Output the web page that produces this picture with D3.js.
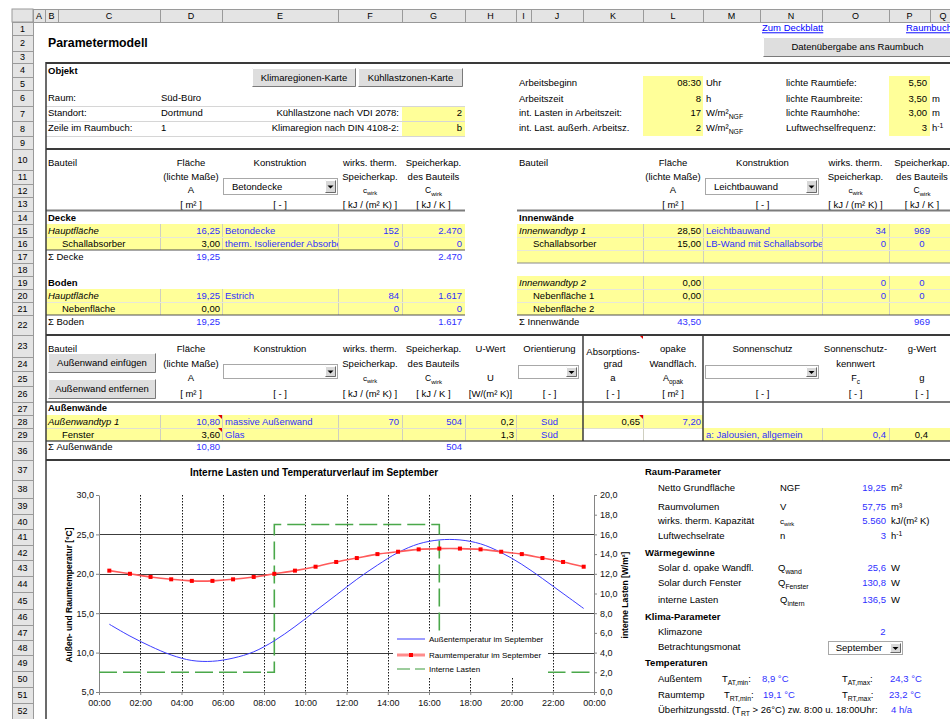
<!DOCTYPE html>
<html>
<head>
<meta charset="utf-8">
<script src="https://cdn.jsdelivr.net/npm/d3@7/dist/d3.min.js"></script>
<style>
  html, body { margin: 0; padding: 0; background: #fff; overflow: hidden; }
  svg { display: block; font-family: "Liberation Sans", Arial, sans-serif; }
</style>
</head>
<body>
<svg id="sheet" width="950" height="719"></svg>
<script>
// ---------- chart data: September day profile ----------
const hourSlots   = [0.5, 1.5, 2.5, 3.5, 4.5, 5.5, 6.5, 7.5, 8.5, 9.5, 10.5, 11.5,
                     12.5, 13.5, 14.5, 15.5, 16.5, 17.5, 18.5, 19.5, 20.5, 21.5, 22.5, 23.5];
const outdoorTemp = [13.6, 12.1, 10.8, 9.7, 9.0, 8.9, 9.3, 10.1, 11.5, 13.3, 15.3, 17.3,
                     19.3, 21.1, 22.7, 23.8, 24.3, 24.3, 23.8, 22.7, 21.2, 19.4, 17.5, 15.6];
const roomTemp    = [20.4, 20.0, 19.6, 19.3, 19.1, 19.1, 19.3, 19.6, 20.0, 20.4, 20.9, 21.5,
                     22.0, 22.5, 22.8, 23.1, 23.2, 23.2, 23.1, 22.8, 22.5, 22.0, 21.5, 20.9];
const loadHours   = [0, 8.5, 8.5, 16.5, 16.5, 24];
const loadValues  = [2, 2, 17, 17, 2, 2];
const timeTicks   = [0, 2, 4, 6, 8, 10, 12, 14, 16, 18, 20, 22, 24];
const timeLabels  = ['00:00', '02:00', '04:00', '06:00', '08:00', '10:00', '12:00',
                     '14:00', '16:00', '18:00', '20:00', '22:00', '00:00'];
const tempTicks   = [5, 10, 15, 20, 25, 30];
const loadTicks   = [0, 2, 4, 6, 8, 10, 12, 14, 16, 18, 20];
const seriesNames = ['Außentemperatur im September', 'Raumtemperatur im September', 'Interne Lasten'];

// ---------- sheet grid ----------
const colNames = ['A','B','C','D','E','F','G','H','I','J','K','L','M','N','O','P','Q'];
const colEdges = [33, 45, 58, 160, 222, 338, 402, 465, 516, 531, 583, 643, 703, 760, 822, 889, 930, 956];
const rowNames = [1,2,3,4,5,6,7,8,9,10,11,12,13,14,15,16,17,18,19,20,21,22,23,24,25,26,27,28,29,
                  36,37,38,39,40,41,42,43,44,45,46,47,48,49,50,51,52];
const rowEdges = [22,35,51,63,77,90,106,121,136,149,170,184,197,211,224,237,250,263,276,289,302,315,
                  335,357,371,386,402,415,428,441,460,480,498,514,529,545,560,576,592,609,625,640,655,
                  671,687,703,719];

const svg = d3.select('#sheet');
const BLUE = '#2f2fff';
const YEL = '#ffff99';
let clipId = 0;

function T(x, y, s, o = {}) {
  const fs = o.fs || 9.5;
  const t = svg.append('text').attr('x', x).attr('y', y + fs * 0.35)
    .attr('font-size', fs).attr('text-anchor', o.a || 'start')
    .attr('fill', o.c || '#000').text(s);
  if (o.b) t.attr('font-weight', 'bold');
  if (o.i) t.attr('font-style', 'italic');
  if (o.u) t.attr('text-decoration', 'underline');
  if (o.clip) {
    const id = 'clip' + (clipId++);
    svg.append('clipPath').attr('id', id).append('rect')
      .attr('x', o.clip[0]).attr('y', y - 10).attr('width', o.clip[1] - o.clip[0]).attr('height', 20);
    t.attr('clip-path', `url(#${id})`);
  }
  return t;
}

// text with sub/superscripts: parts are strings or [string, 'sub'|'sup']
function R(x, y, parts, o = {}) {
  const fs = o.fs || 9.5;
  const t = svg.append('text').attr('x', x).attr('y', y + fs * 0.35).attr('font-size', fs)
    .attr('text-anchor', o.a || 'start').attr('fill', o.c || '#000');
  if (o.b) t.attr('font-weight', 'bold');
  let shift = 0;
  parts.forEach(p => {
    const [s, kind] = typeof p === 'string' ? [p, null] : p;
    const target = kind === 'sub' ? fs * 0.3 : kind === 'sup' ? -fs * 0.38 : 0;
    const ts = t.append('tspan').attr('dy', target - shift).text(s);
    if (kind) ts.attr('font-size', fs * 0.72);
    shift = target;
  });
  return t;
}

function rect(x0, y0, x1, y1, fill, stroke) {
  const r = svg.append('rect').attr('x', x0).attr('y', y0).attr('width', x1 - x0).attr('height', y1 - y0)
    .attr('fill', fill || 'none');
  if (stroke) r.attr('stroke', stroke);
  return r;
}
function hline(x0, x1, y, color, w) {
  svg.append('line').attr('x1', x0).attr('x2', x1).attr('y1', y).attr('y2', y)
    .attr('stroke', color).attr('stroke-width', w || 1);
}
function vline(x, y0, y1, color, w) {
  svg.append('line').attr('x1', x).attr('x2', x).attr('y1', y0).attr('y2', y1)
    .attr('stroke', color).attr('stroke-width', w || 1);
}
function button(x0, y0, x1, y1, label) {
  rect(x0, y0, x1, y1, '#dedede');
  svg.append('path').attr('d', `M${x0 + 0.5},${y1 - 0.5}V${y0 + 0.5}H${x1 - 0.5}`).attr('stroke', '#fff').attr('fill', 'none');
  svg.append('path').attr('d', `M${x0 + 0.5},${y1 - 0.5}H${x1 - 0.5}V${y0 + 0.5}`).attr('stroke', '#7a7a7a').attr('fill', 'none');
  T((x0 + x1) / 2, (y0 + y1) / 2, label, { a: 'middle' });
}
function dropdown(x0, y0, x1, y1, label, o = {}) {
  rect(x0 + 0.5, y0 + 0.5, x1 - 0.5, y1 - 0.5, '#fff', '#a8a8a8');
  const bx0 = x1 - 13, by0 = y0 + 2, bx1 = x1 - 2, by1 = y1 - 2;
  rect(bx0, by0, bx1, by1, '#d8d8d8');
  svg.append('path').attr('d', `M${bx0 + 0.5},${by1 - 0.5}V${by0 + 0.5}H${bx1 - 0.5}`).attr('stroke', '#fff').attr('fill', 'none');
  svg.append('path').attr('d', `M${bx0 + 0.5},${by1 - 0.5}H${bx1 - 0.5}V${by0 + 0.5}`).attr('stroke', '#6a6a6a').attr('fill', 'none');
  const cx = (bx0 + bx1) / 2, cy = (by0 + by1) / 2;
  svg.append('path').attr('d', `M${cx - 3},${cy - 1}H${cx + 3}L${cx},${cy + 2}Z`).attr('fill', '#000');
  if (label) T(o.center ? (x0 + bx0) / 2 : x0 + 9, (y0 + y1) / 2, label, { a: o.center ? 'middle' : 'start' });
}
function redMark(x, y) {
  svg.append('path').attr('d', `M${x - 4},${y}H${x}V${y + 4}Z`).attr('fill', '#e00000');
}
const cx = n => colEdges[colNames.indexOf(n)];
const ce = n => colEdges[colNames.indexOf(n) + 1];
const cm = n => (cx(n) + ce(n)) / 2;

// ---------- Excel frame: column and row headers ----------
rect(12, 9, 33, 22, '#e4e4e4', '#9a9a9a');
colNames.forEach((n, i) => {
  rect(colEdges[i] + 0.5, 9.5, colEdges[i + 1] + 0.5, 22.5, '#e4e4e4', '#9a9a9a');
  T(Math.min((colEdges[i] + colEdges[i + 1]) / 2, 943), 15.5, n, { a: 'middle', fs: 9 });
});
rowNames.forEach((n, i) => {
  rect(12.5, rowEdges[i] + 0.5, 33.5, rowEdges[i + 1] + 0.5, '#e4e4e4', '#9a9a9a');
  T(22.5, (rowEdges[i] + rowEdges[i + 1]) / 2, String(n), { a: 'middle', fs: 9 });
});

// ---------- header area ----------
T(48, 43, 'Parametermodell', { b: 1, fs: 12.3 });
T(762, 28, 'Zum Deckblatt', { c: '#0000ff', u: 1 });
T(906, 28, 'Raumbuch', { c: '#0000ff', u: 1 });
button(763, 37, 952, 57, 'Datenübergabe ans Raumbuch');

// ---------- Objekt block ----------
T(48, 71, 'Objekt', { b: 1 });
button(252, 68, 356, 87, 'Klimaregionen-Karte');
button(358, 68, 463, 87, 'Kühllastzonen-Karte');
hline(46, 465, 106.5, '#d6d6d6');
hline(46, 465, 121.5, '#d6d6d6');
hline(46, 465, 136.5, '#d6d6d6');
rect(cx('G'), 107, ce('G'), 121, YEL);
rect(cx('G'), 122, ce('G'), 136, YEL);
T(48, 98, 'Raum:'); T(161, 98, 'Süd-Büro');
T(48, 113, 'Standort:'); T(161, 113, 'Dortmund');
T(399, 113, 'Kühllastzone nach VDI 2078:', { a: 'end' }); T(462, 113, '2', { a: 'end' });
T(48, 128, 'Zeile im Raumbuch:'); T(161, 128, '1');
T(399, 128, 'Klimaregion nach DIN 4108-2:', { a: 'end' }); T(462, 128, 'b', { a: 'end' });

rect(643, 76, 703, 136, YEL);
rect(889, 76, 930, 136, YEL);
T(519, 83, 'Arbeitsbeginn'); T(701, 83, '08:30', { a: 'end' }); T(706, 83, 'Uhr');
T(519, 99, 'Arbeitszeit'); T(701, 99, '8', { a: 'end' }); T(706, 99, 'h');
T(519, 113, 'int. Lasten in Arbeitszeit:'); T(701, 113, '17', { a: 'end' });
R(706, 113, ['W/m²', ['NGF', 'sub']]);
T(519, 128, 'int. Last. außerh. Arbeitsz.'); T(701, 128, '2', { a: 'end' });
R(706, 128, ['W/m²', ['NGF', 'sub']]);
T(786, 83, 'lichte Raumtiefe:'); T(927, 83, '5,50', { a: 'end' });
T(786, 99, 'lichte Raumbreite:'); T(927, 99, '3,50', { a: 'end' }); T(932, 99, 'm');
T(786, 113, 'lichte Raumhöhe:'); T(927, 113, '3,00', { a: 'end' }); T(932, 113, 'm');
T(786, 128, 'Luftwechselfrequenz:'); T(927, 128, '3', { a: 'end' }); R(932, 128, ['h', ['-1', 'sup']]);

// ---------- Decke / Boden / Innenwände ----------
function headerBlock(leftX, cols, dropLabel, dropBox) {
  T(leftX, 163, 'Bauteil');
  T(cols.A, 163, 'Fläche', { a: 'middle' });
  T(cols.A, 177, '(lichte Maße)', { a: 'middle' });
  T(cols.A, 190, 'A', { a: 'middle' });
  T(cols.A, 205, '[ m² ]', { a: 'middle' });
  T(cols.K, 163, 'Konstruktion', { a: 'middle' });
  dropdown(dropBox[0], 178, dropBox[1], 195, dropLabel);
  T(cols.K, 205, '[ - ]', { a: 'middle' });
  T(cols.c, 163, 'wirks. therm.', { a: 'middle' });
  T(cols.c, 177, 'Speicherkap.', { a: 'middle' });
  R(cols.c, 190, ['c', ['wirk', 'sub']], { a: 'middle', fs: 8 });
  T(cols.c, 205, '[ kJ / (m² K) ]', { a: 'middle' });
  T(cols.C, 163, 'Speicherkap.', { a: 'middle' });
  T(cols.C, 177, 'des Bauteils', { a: 'middle' });
  R(cols.C, 190, ['C', ['wirk', 'sub']], { a: 'middle', fs: 8.5 });
  T(cols.C, 205, '[ kJ / K ]', { a: 'middle' });
}
headerBlock(48, { A: cm('D'), K: cm('E'), c: cm('F'), C: cm('G') }, 'Betondecke', [223, 338]);
headerBlock(519, { A: cm('L'), K: 762.5, c: cm('O'), C: 922 }, 'Leichtbauwand', [705, 819]);

function yellowRows(x0, x1, y0, y1, splits, rowLines) {
  rect(x0, y0, x1, y1, YEL);
  splits.forEach(s => vline(s + 0.5, y0, y1, '#cfcfc0'));
  rowLines.forEach(r => hline(x0, x1, r + 0.5, '#e8e8d8'));
}
const leftSplits = [160, 222, 338, 402];
const rightSplits = [643, 703, 822, 889];
yellowRows(46, 465, 224, 250, leftSplits, [237]);
yellowRows(46, 465, 289, 315, leftSplits, [302]);
yellowRows(517, 950, 224, 263, rightSplits, [237, 250]);
yellowRows(517, 950, 276, 315, rightSplits, [289, 302]);

hline(46, 465, 210.5, '#7c7c7c', 2);
hline(517, 950, 210.5, '#7c7c7c', 2);
hline(46, 465, 250, '#505050', 1.2);
hline(46, 465, 315, '#505050', 1.2);
hline(517, 950, 263, '#8a8a8a', 1);
hline(517, 950, 315, '#505050', 1.2);

T(48, 218, 'Decke', { b: 1 });
T(48, 231, 'Hauptfläche', { i: 1 }); T(220, 231, '16,25', { a: 'end', c: BLUE });
T(225, 231, 'Betondecke', { c: BLUE }); T(399, 231, '152', { a: 'end', c: BLUE }); T(462, 231, '2.470', { a: 'end', c: BLUE });
T(62, 244, 'Schallabsorber'); T(220, 244, '3,00', { a: 'end' });
T(225, 244, 'therm. Isolierender Absorber', { c: BLUE, clip: [222, 338] });
T(399, 244, '0', { a: 'end', c: BLUE }); T(462, 244, '0', { a: 'end', c: BLUE });
T(48, 257, 'Σ Decke'); T(220, 257, '19,25', { a: 'end', c: BLUE }); T(462, 257, '2.470', { a: 'end', c: BLUE });
T(48, 283, 'Boden', { b: 1 });
T(48, 296, 'Hauptfläche', { i: 1 }); T(220, 296, '19,25', { a: 'end', c: BLUE });
T(225, 296, 'Estrich', { c: BLUE }); T(399, 296, '84', { a: 'end', c: BLUE }); T(462, 296, '1.617', { a: 'end', c: BLUE });
T(62, 309, 'Nebenfläche'); T(220, 309, '0,00', { a: 'end' });
T(399, 309, '0', { a: 'end', c: BLUE }); T(462, 309, '0', { a: 'end', c: BLUE });
T(48, 322, 'Σ Boden'); T(220, 322, '19,25', { a: 'end', c: BLUE }); T(462, 322, '1.617', { a: 'end', c: BLUE });

T(519, 218, 'Innenwände', { b: 1 });
T(519, 231, 'Innenwandtyp 1', { i: 1 }); T(701, 231, '28,50', { a: 'end' });
T(706, 231, 'Leichtbauwand', { c: BLUE }); T(886, 231, '34', { a: 'end', c: BLUE }); T(922, 231, '969', { a: 'middle', c: BLUE });
T(533, 244, 'Schallabsorber'); T(701, 244, '15,00', { a: 'end' });
T(706, 244, 'LB-Wand mit Schallabsorber', { c: BLUE, clip: [703, 822] });
T(886, 244, '0', { a: 'end', c: BLUE }); T(922, 244, '0', { a: 'middle', c: BLUE });
T(519, 283, 'Innenwandtyp 2', { i: 1 }); T(701, 283, '0,00', { a: 'end' });
T(886, 283, '0', { a: 'end', c: BLUE }); T(922, 283, '0', { a: 'middle', c: BLUE });
T(533, 296, 'Nebenfläche 1'); T(701, 296, '0,00', { a: 'end' });
T(886, 296, '0', { a: 'end', c: BLUE }); T(922, 296, '0', { a: 'middle', c: BLUE });
T(533, 309, 'Nebenfläche 2');
T(519, 322, 'Σ Innenwände'); T(701, 322, '43,50', { a: 'end', c: BLUE }); T(922, 322, '969', { a: 'middle', c: BLUE });

// ---------- Außenwände ----------
T(48, 349, 'Bauteil');
button(48, 353, 156, 373, 'Außenwand einfügen');
button(48, 379, 156, 399, 'Außenwand entfernen');
[['D', ['Fläche', '(lichte Maße)', 'A', '[ m² ]']],
 ['F', ['wirks. therm.', 'Speicherkap.', null, '[ kJ / (m² K) ]']],
 ['G', ['Speicherkap.', 'des Bauteils', null, '[ kJ / K ]']],
 ['H', ['U-Wert', null, 'U', '[W/(m² K)]']],
 ['L', ['opake', 'Wandfläch.', null, '[ m² ]']],
 ['O', ['Sonnenschutz-', 'kennwert', null, '[ - ]']]].forEach(([c, lines]) => {
  [349, 364, 378, 394].forEach((y, i) => { if (lines[i]) T(cm(c), y, lines[i], { a: 'middle' }); });
});
T(cm('E'), 349, 'Konstruktion', { a: 'middle' }); dropdown(223, 364, 338, 379, ''); T(cm('E'), 394, '[ - ]', { a: 'middle' });
R(cm('F'), 378, ['c', ['wirk', 'sub']], { a: 'middle', fs: 8 });
R(cm('G'), 378, ['C', ['wirk', 'sub']], { a: 'middle', fs: 8.5 });
T(549.5, 349, 'Orientierung', { a: 'middle' }); dropdown(518, 365, 579, 379, ''); T(549.5, 394, '[ - ]', { a: 'middle' });
T(cm('K'), 352, 'Absorptions-', { a: 'middle' }); T(cm('K'), 364, 'grad', { a: 'middle' });
T(cm('K'), 378, 'a', { a: 'middle' }); T(cm('K'), 394, '[ - ]', { a: 'middle' });
R(cm('L'), 378, ['A', ['opak', 'sub']], { a: 'middle', fs: 9 });
T(762.5, 349, 'Sonnenschutz', { a: 'middle' }); dropdown(705, 365, 819, 379, ''); T(762.5, 394, '[ - ]', { a: 'middle' });
R(cm('O'), 378, ['F', ['c', 'sub']], { a: 'middle', fs: 9 });
T(922, 349, 'g-Wert', { a: 'middle' }); T(922, 378, 'g', { a: 'middle' }); T(922, 394, '[ - ]', { a: 'middle' });

T(48, 408, 'Außenwände', { b: 1 });
rect(46, 415, 703, 428, YEL);
rect(46, 428, 583, 441, YEL);
rect(703, 428, 950, 441, YEL);
[160, 222, 338, 402, 465, 516, 643].forEach(s => vline(s + 0.5, 415, 441, '#cfcfc0'));
[822, 889].forEach(s => vline(s + 0.5, 428, 441, '#cfcfc0'));
hline(46, 703, 428.5, '#e0e0d0');
T(48, 422, 'Außenwandtyp 1', { i: 1 }); T(220, 422, '10,80', { a: 'end', c: BLUE });
T(225, 422, 'massive Außenwand', { c: BLUE }); T(399, 422, '70', { a: 'end', c: BLUE }); T(462, 422, '504', { a: 'end', c: BLUE });
T(514, 422, '0,2', { a: 'end' }); T(549.5, 422, 'Süd', { a: 'middle', c: BLUE });
T(640, 422, '0,65', { a: 'end' }); T(701, 422, '7,20', { a: 'end', c: BLUE });
T(62, 434.5, 'Fenster'); T(220, 434.5, '3,60', { a: 'end' }); T(225, 434.5, 'Glas', { c: BLUE });
T(514, 434.5, '1,3', { a: 'end' }); T(549.5, 434.5, 'Süd', { a: 'middle', c: BLUE });
T(706, 434.5, 'a: Jalousien, allgemein', { c: BLUE });
T(886, 434.5, '0,4', { a: 'end', c: BLUE }); T(928, 434.5, '0,4', { a: 'end' });
T(48, 447, 'Σ Außenwände'); T(220, 447, '10,80', { a: 'end', c: BLUE }); T(462, 447, '504', { a: 'end', c: BLUE });
redMark(222, 415); redMark(222, 428); redMark(643, 335); redMark(643, 415);

// section rules
hline(46, 950, 63, '#3a3a3a', 2);
hline(46, 950, 149, '#3a3a3a', 2);
hline(46, 950, 335, '#3a3a3a', 2);
hline(46, 950, 402, '#7c7c7c', 2);
hline(46, 950, 441, '#5a5a5a', 1.5);
hline(46, 950, 460, '#3a3a3a', 2);
vline(583, 335, 441, '#3a3a3a', 1.5);
vline(703, 335, 441, '#3a3a3a', 1.5);
vline(46, 62, 719, '#3a3a3a', 1.5);

// ---------- chart ----------
const chart = svg.append('g').attr('class', 'chart');
const x = d3.scaleLinear().domain([0, 24]).range([99, 594]);
const yT = d3.scaleLinear().domain([5, 30]).range([692, 495]);
const yL = d3.scaleLinear().domain([0, 20]).range([692, 495]);
const fmt = d => d3.format('.1f')(d).replace('.', ',');

chart.append('text').attr('x', 314).attr('y', 475.5).attr('text-anchor', 'middle')
  .attr('font-size', 10).attr('font-weight', 'bold').text('Interne Lasten und Temperaturverlauf im September');

// gridlines
chart.append('g').selectAll('line').data(tempTicks.filter(v => v > 5 && v < 30)).join('line')
  .attr('x1', x(0)).attr('x2', x(24)).attr('y1', d => Math.round(yT(d)) + 0.5).attr('y2', d => Math.round(yT(d)) + 0.5)
  .attr('stroke', '#3c3c3c');
chart.append('g').selectAll('line').data(timeTicks.filter(v => v > 0 && v < 24)).join('line')
  .attr('x1', d => Math.round(x(d)) + 0.5).attr('x2', d => Math.round(x(d)) + 0.5)
  .attr('y1', yT(30)).attr('y2', yT(5)).attr('stroke', '#1a1a1a').attr('stroke-dasharray', '1.5,1.5');

// axes
function styleAxis(g) {
  g.selectAll('path.domain').attr('stroke', '#858585');
  g.selectAll('.tick line').attr('stroke', '#858585');
  g.selectAll('.tick text').attr('font-size', 9).attr('fill', '#111')
    .attr('font-family', '"Liberation Sans", Arial, sans-serif');
}
chart.append('g').attr('transform', `translate(${x(0)},0)`)
  .call(d3.axisLeft(yT).tickValues(tempTicks).tickFormat(fmt).tickSize(3).tickPadding(2).tickSizeOuter(0))
  .call(styleAxis);
chart.append('g').attr('transform', `translate(${x(24)},0)`)
  .call(d3.axisRight(yL).tickValues(loadTicks).tickFormat(fmt).tickSize(3).tickPadding(3).tickSizeOuter(0))
  .call(styleAxis);
chart.append('g').attr('transform', `translate(0,${yT(5)})`)
  .call(d3.axisBottom(x).tickValues(timeTicks).tickFormat((d, i) => timeLabels[i]).tickSize(3).tickPadding(5).tickSizeOuter(0))
  .call(styleAxis);

chart.append('text').attr('transform', `translate(72,595) rotate(-90)`).attr('text-anchor', 'middle')
  .attr('font-size', 8.5).attr('font-weight', 'bold').text('Außen- und Raumtemperatur [°C]');
chart.append('text').attr('transform', `translate(628,595) rotate(-90)`).attr('text-anchor', 'middle')
  .attr('font-size', 8.5).attr('font-weight', 'bold').text('interne Lasten [W/m²]');

// series
const loadLine = d3.line().x((d, i) => x(loadHours[i])).y(d => yL(d));
chart.append('path').attr('d', loadLine(loadValues)).attr('fill', 'none')
  .attr('stroke', '#4aa84a').attr('stroke-width', 1.6).attr('stroke-dasharray', '18,6');

const smooth = d3.line().x((d, i) => x(hourSlots[i])).curve(d3.curveCatmullRom.alpha(0.5));
chart.append('path').attr('d', smooth.y(d => yT(d))(outdoorTemp)).attr('fill', 'none')
  .attr('stroke', '#3d3dff').attr('stroke-width', 1);
chart.append('path').attr('d', smooth.y(d => yT(d))(roomTemp)).attr('fill', 'none')
  .attr('stroke', '#ff5a5a').attr('stroke-width', 1.6);
chart.append('g').selectAll('rect').data(roomTemp).join('rect')
  .attr('x', (d, i) => x(hourSlots[i]) - 2).attr('y', d => yT(d) - 2)
  .attr('width', 4).attr('height', 4).attr('fill', '#ff0000');

// legend
const leg = chart.append('g');
leg.append('rect').attr('x', 393).attr('y', 632).attr('width', 155).attr('height', 45).attr('fill', '#fff');
const legY = [639, 655, 669];
leg.append('line').attr('x1', 397).attr('x2', 425).attr('y1', legY[0]).attr('y2', legY[0]).attr('stroke', '#3d3dff');
leg.append('line').attr('x1', 397).attr('x2', 425).attr('y1', legY[1]).attr('y2', legY[1]).attr('stroke', '#ff8c8c').attr('stroke-width', 3);
leg.append('rect').attr('x', 409).attr('y', legY[1] - 2).attr('width', 4).attr('height', 4).attr('fill', '#ff0000');
leg.append('line').attr('x1', 397).attr('x2', 425).attr('y1', legY[2]).attr('y2', legY[2]).attr('stroke', '#3a9a3a').attr('stroke-dasharray', '13,5');
seriesNames.forEach((n, i) => {
  leg.append('text').attr('x', 429).attr('y', legY[i] + 3).attr('font-size', 8).text(n);
});

// ---------- room summary panel ----------
T(645, 472, 'Raum-Parameter', { b: 1 });
T(658, 488, 'Netto Grundfläche'); T(780, 488, 'NGF'); T(886, 488, '19,25', { a: 'end', c: BLUE }); T(891, 488, 'm²');
T(658, 507, 'Raumvolumen'); T(780, 507, 'V'); T(886, 507, '57,75', { a: 'end', c: BLUE }); T(891, 507, 'm³');
T(658, 521, 'wirks. therm. Kapazität'); R(780, 521, ['c', ['wirk', 'sub']], { fs: 8 });
T(886, 521, '5.560', { a: 'end', c: BLUE }); T(891, 521, 'kJ/(m² K)');
T(658, 536, 'Luftwechselrate'); T(780, 536, 'n'); T(886, 536, '3', { a: 'end', c: BLUE }); R(891, 536, ['h', ['-1', 'sup']]);
T(645, 553, 'Wärmegewinne', { b: 1 });
T(658, 568, 'Solar d. opake Wandfl.'); R(778, 568, ['Q', ['wand', 'sub']]); T(886, 568, '25,6', { a: 'end', c: BLUE }); T(891, 568, 'W');
T(658, 583, 'Solar durch Fenster'); R(778, 583, ['Q', ['Fenster', 'sub']]); T(886, 583, '130,8', { a: 'end', c: BLUE }); T(891, 583, 'W');
T(658, 600, 'interne Lasten'); R(780, 600, ['Q', ['intern', 'sub']]); T(886, 600, '136,5', { a: 'end', c: BLUE }); T(891, 600, 'W');
T(645, 617, 'Klima-Parameter', { b: 1 });
T(658, 632, 'Klimazone'); T(883, 632, '2', { a: 'middle', c: BLUE });
T(658, 647, 'Betrachtungsmonat'); dropdown(828, 641, 903, 655, 'September', { center: 1 });
T(645, 663, 'Temperaturen', { b: 1 });
T(658, 679, 'Außentem'); R(722, 679, ['T', ['AT,min', 'sub'], ':']);
T(762, 679, '8,9 °C', { c: BLUE }); R(842, 679, ['T', ['AT,max', 'sub'], ':']); T(890, 679, '24,3 °C', { c: BLUE });
T(658, 695, 'Raumtemp'); R(724, 695, ['T', ['RT,min', 'sub'], ':']);
T(763, 695, '19,1 °C', { c: BLUE }); R(842, 695, ['T', ['RT,max', 'sub'], ':']); T(889, 695, '23,2 °C', { c: BLUE });
R(658, 710, ['Überhitzungsstd. (T', ['RT', 'sub'], ' > 26°C) zw. 8:00 u. 18:00Uhr:']); T(891, 710, '4 h/a', { c: BLUE });
</script>
</body>
</html>
